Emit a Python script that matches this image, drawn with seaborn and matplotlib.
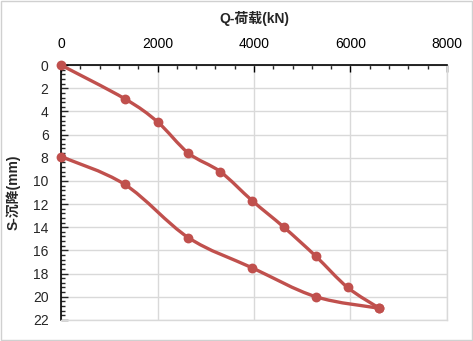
import numpy as np
import matplotlib
matplotlib.use("Agg")
import matplotlib.pyplot as plt
import seaborn as sns
from matplotlib.path import Path
from matplotlib.patches import PathPatch, Rectangle
from matplotlib.ticker import MultipleLocator

# loading / unloading readings
load_q = [0, 1320, 2000, 2640, 3300, 3960, 4620, 5280, 5940, 6600]
load_s = [0.0, 2.9, 4.9, 7.6, 9.2, 11.7, 14.0, 16.5, 19.2, 21.0]
unload_q = [6600, 5280, 3960, 2640, 1320, 0]
unload_s = [21.0, 20.0, 17.5, 14.9, 10.3, 7.9]

x_ticks = [0, 2000, 4000, 6000, 8000]
y_ticks = list(range(0, 23, 2))

red = "#C0504D"

sns.set_style("white")
plt.rcParams['font.family'] = ['Liberation Sans', 'Noto Sans CJK SC', 'DejaVu Sans']

fig = plt.figure(figsize=(4.73, 3.41), dpi=100)
ax = fig.add_axes([0.129, 0.062, 0.816, 0.747])


def smooth_path(xs, ys):
    # Excel-style smoothed line: cubic Bezier segments through the points
    pts = np.column_stack([xs, ys]).astype(float)
    n = len(pts)
    verts = [pts[0]]
    codes = [Path.MOVETO]
    for i in range(n - 1):
        p0 = pts[i - 1] if i > 0 else pts[i]
        p1 = pts[i]
        p2 = pts[i + 1]
        p3 = pts[i + 2] if i + 2 < n else pts[i + 1]
        c1 = p1 + (p2 - p0) / 6.0
        c2 = p2 - (p3 - p1) / 6.0
        verts += [c1, c2, p2]
        codes += [Path.CURVE4] * 3
    return Path(verts, codes)


for qs, ss in [(load_q, load_s), (unload_q, unload_s)]:
    ax.add_patch(PathPatch(smooth_path(qs, ss), facecolor="none",
                           edgecolor=red, lw=2.4, zorder=3, capstyle="round"))
    sns.scatterplot(x=qs, y=ss, color=red, s=50, edgecolor=red,
                    linewidth=0, zorder=4, ax=ax, clip_on=False)

ax.set_xlim(0, 8000)
ax.set_ylim(22, 0)
ax.xaxis.tick_top()
ax.xaxis.set_label_position("top")
ax.set_xticks(x_ticks)
ax.set_yticks(y_ticks)
ax.xaxis.set_minor_locator(MultipleLocator(400))
ax.yaxis.set_minor_locator(MultipleLocator(0.4))
ax.tick_params(axis="x", which="major", direction="in", length=5, width=1,
               labelsize=10, pad=10, colors="black")
ax.tick_params(axis="x", which="minor", direction="in", length=3, width=1,
               top=True)
ax.tick_params(axis="y", which="major", direction="in", length=5, width=1,
               labelsize=10, pad=9, left=True)
ax.tick_params(axis="y", which="minor", direction="in", length=3, width=1,
               left=True)
ax.grid(True, which="major", color="#D9D9D9", lw=1)
ax.set_axisbelow(True)

ax.set_xlabel("Q-荷载(kN)", fontsize=10, fontweight="bold", labelpad=10)
ax.set_ylabel("S-沉降(mm)", fontsize=10, fontweight="bold", labelpad=9)

for side in ["top", "left"]:
    ax.spines[side].set_color("black")
    ax.spines[side].set_linewidth(1.2)
for side in ["bottom", "right"]:
    ax.spines[side].set_color("#D9D9D9")
    ax.spines[side].set_linewidth(1)

fig.patches.append(Rectangle((0.003, 0.004), 0.994, 0.992, transform=fig.transFigure,
                             fill=False, edgecolor="#D0D0D0", lw=1))

fig.savefig("out.png", dpi=100)
